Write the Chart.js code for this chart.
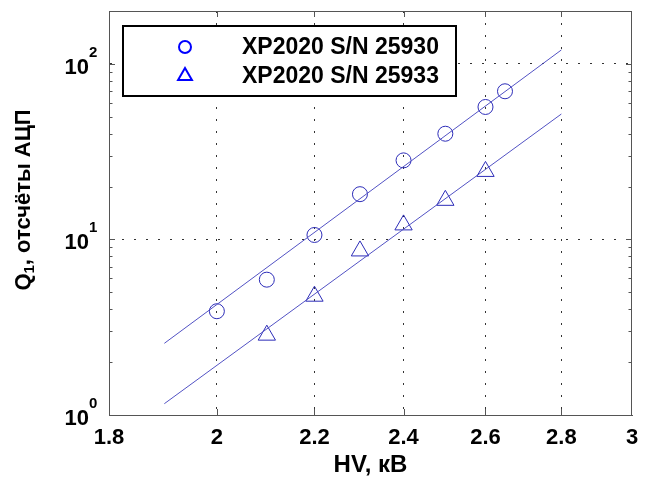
<!DOCTYPE html>
<html>
<head>
<meta charset="utf-8">
<script src="https://cdn.jsdelivr.net/npm/chart.js@4/dist/chart.umd.min.js"></script>
<style>
  html, body { margin: 0; background: #fff; }
  #wrap { width: 649px; height: 483px; }
</style>
</head>
<body>
<div id="wrap"><canvas id="chart"></canvas></div>
<script>
// data
const seriesNames = ['XP2020 S/N 25930', 'XP2020 S/N 25933'];
const hv25930 = [2.0, 2.1, 2.2, 2.3, 2.4, 2.5, 2.6, 2.65];
const q25930 = [3.9, 5.9, 10.6, 18.1, 28.2, 40.0, 56.8, 69.8];
const hv25933 = [2.1, 2.2, 2.3, 2.4, 2.5, 2.6];
const q25933 = [2.85, 4.75, 8.6, 12.1, 16.7, 24.4];
const fitHv = [1.9, 2.8];
const fit25930 = [2.56, 120];
const fit25933 = [1.16, 51.8];
const xTicks = [1.8, 2, 2.2, 2.4, 2.6, 2.8, 3];
const yTicks = [1, 2, 3, 4, 5, 6, 7, 8, 9, 10, 20, 30, 40, 50, 60, 70, 80, 90, 100, 200];
const yMajor = [1, 10, 100];

const font = 'Liberation Sans, Arial, sans-serif';
const axisColor = '#555';
const gridColor = '#333';
const markColor = '#2c2cb8';
const lineColor = '#5252c4';

const pts = (xs, ys) => xs.map((x, i) => ({ x: x, y: ys[i] }));

// box, inner ticks, y labels with exponents, y title, legend
const decor = {
    id: 'decor',
    afterDraw(chart) {
        const ctx = chart.ctx;
        const ca = chart.chartArea;
        const xs = chart.scales.x, ys = chart.scales.y;

        ctx.save();
        ctx.strokeStyle = axisColor;
        ctx.lineWidth = 1;
        ctx.strokeRect(ca.left + 0.5, ca.top + 0.5, ca.right - ca.left - 1, ca.bottom - ca.top);

        // ticks pointing inwards
        ctx.beginPath();
        yTicks.forEach(v => {
            if (v === 1 || v === 200) return;
            const y = Math.round(ys.getPixelForValue(v)) + 0.5;
            const len = yMajor.includes(v) ? 6 : 3.5;
            ctx.moveTo(ca.left, y); ctx.lineTo(ca.left + len, y);
            ctx.moveTo(ca.right, y); ctx.lineTo(ca.right - len, y);
        });
        xTicks.slice(1, -1).forEach(v => {
            const x = Math.round(xs.getPixelForValue(v)) + 0.5;
            ctx.moveTo(x, ca.bottom); ctx.lineTo(x, ca.bottom - 6);
            ctx.moveTo(x, ca.top); ctx.lineTo(x, ca.top + 6);
        });
        ctx.stroke();

        // y tick labels 10^n
        ctx.fillStyle = '#000';
        yMajor.forEach(v => {
            const y = ys.getPixelForValue(v);
            const exp = String(Math.round(Math.log10(v)));
            ctx.font = 'bold 15px ' + font;
            ctx.textAlign = 'left';
            ctx.textBaseline = 'alphabetic';
            ctx.fillText(exp, ca.left - 20, y - 7);
            ctx.font = 'bold 22px ' + font;
            ctx.textAlign = 'right';
            ctx.fillText('10', ca.left - 20, y + 10);
        });

        // y title with subscript
        ctx.translate(24, 200);
        ctx.rotate(-Math.PI / 2);
        const big = 'bold 22px ' + font, small = 'bold 15px ' + font;
        const parts = [['Q', big, 0], ['1', small, 6], [', отсчёты АЦП', big, 0]];
        let total = 0;
        parts.forEach(p => { ctx.font = p[1]; total += ctx.measureText(p[0]).width; });
        let cx = -total / 2;
        ctx.textAlign = 'left';
        ctx.textBaseline = 'middle';
        parts.forEach(p => {
            ctx.font = p[1];
            ctx.fillText(p[0], cx, p[2]);
            cx += ctx.measureText(p[0]).width;
        });
        ctx.restore();

        // legend box
        ctx.save();
        const lx = ca.left + 14, ly = ca.top + 15, lw = 333, lh = 70;
        ctx.fillStyle = '#fff';
        ctx.fillRect(lx, ly, lw, lh);
        ctx.strokeStyle = '#000';
        ctx.lineWidth = 2;
        ctx.strokeRect(lx, ly, lw, lh);
        const styles = ['circle', 'triangle'];
        const radii = [6, 8];
        seriesNames.forEach((name, i) => {
            const ry = ly + 21 + i * 29;
            ctx.strokeStyle = '#0000ff';
            ctx.fillStyle = 'rgba(0,0,0,0)';
            ctx.lineWidth = 2;
            Chart.helpers.drawPoint(ctx, { pointStyle: styles[i], radius: radii[i], rotation: 0, borderWidth: 2 }, lx + 62, ry);
            ctx.fillStyle = '#000';
            ctx.font = 'bold 23px ' + font;
            ctx.textAlign = 'left';
            ctx.textBaseline = 'middle';
            ctx.fillText(name, lx + 119, ry + 1);
        });
        ctx.restore();
    }
};

new Chart(document.getElementById('chart'), {
    type: 'scatter',
    data: {
        datasets: [{
            label: 'fit ' + seriesNames[0],
            data: pts(fitHv, fit25930),
            showLine: true,
            borderColor: lineColor,
            borderWidth: 1,
            pointRadius: 0
        }, {
            label: 'fit ' + seriesNames[1],
            data: pts(fitHv, fit25933),
            showLine: true,
            borderColor: lineColor,
            borderWidth: 1,
            pointRadius: 0
        }, {
            label: seriesNames[0],
            data: pts(hv25930, q25930),
            pointStyle: 'circle',
            pointRadius: 7.5,
            borderWidth: 1,
            borderColor: markColor,
            backgroundColor: 'rgba(0,0,0,0)'
        }, {
            label: seriesNames[1],
            data: pts(hv25933, q25933),
            pointStyle: 'triangle',
            pointRadius: 10,
            borderWidth: 1,
            borderColor: markColor,
            backgroundColor: 'rgba(0,0,0,0)'
        }]
    },
    options: {
        responsive: true,
        maintainAspectRatio: false,
        animation: false,
        layout: { padding: { top: 7, right: 17, left: 0, bottom: 0 } },
        plugins: { legend: { display: false }, tooltip: { enabled: false } },
        scales: {
            x: {
                type: 'logarithmic',
                min: 1.8,
                max: 3,
                afterBuildTicks: s => { s.ticks = xTicks.map(v => ({ value: v })); },
                afterFit: s => { s.height = 68; },
                ticks: {
                    autoSkip: false,
                    maxRotation: 0,
                    padding: 10,
                    color: '#000',
                    font: { family: font, size: 22, weight: 'bold' },
                    callback: v => String(v)
                },
                grid: {
                    drawTicks: false,
                    lineWidth: 1,
                    color: c => (c.tick && c.tick.value > 1.8 && c.tick.value < 3) ? gridColor : 'rgba(0,0,0,0)'
                },
                border: { color: axisColor, width: 1, dash: [2, 10] },
                title: {
                    display: true,
                    text: 'HV, кВ',
                    color: '#000',
                    font: { family: font, size: 24, weight: 'bold' },
                    padding: { top: 0, bottom: 3 }
                }
            },
            y: {
                type: 'logarithmic',
                min: 1,
                max: 200,
                afterBuildTicks: s => { s.ticks = yTicks.map(v => ({ value: v })); },
                afterFit: s => { s.width = 109; },
                ticks: { display: false },
                grid: {
                    drawTicks: false,
                    lineWidth: 1,
                    color: c => (c.tick && (c.tick.value === 10 || c.tick.value === 100)) ? gridColor : 'rgba(0,0,0,0)'
                },
                border: { color: axisColor, width: 1, dash: [2, 10] }
            }
        }
    },
    plugins: [decor]
});
</script>
</body>
</html>
